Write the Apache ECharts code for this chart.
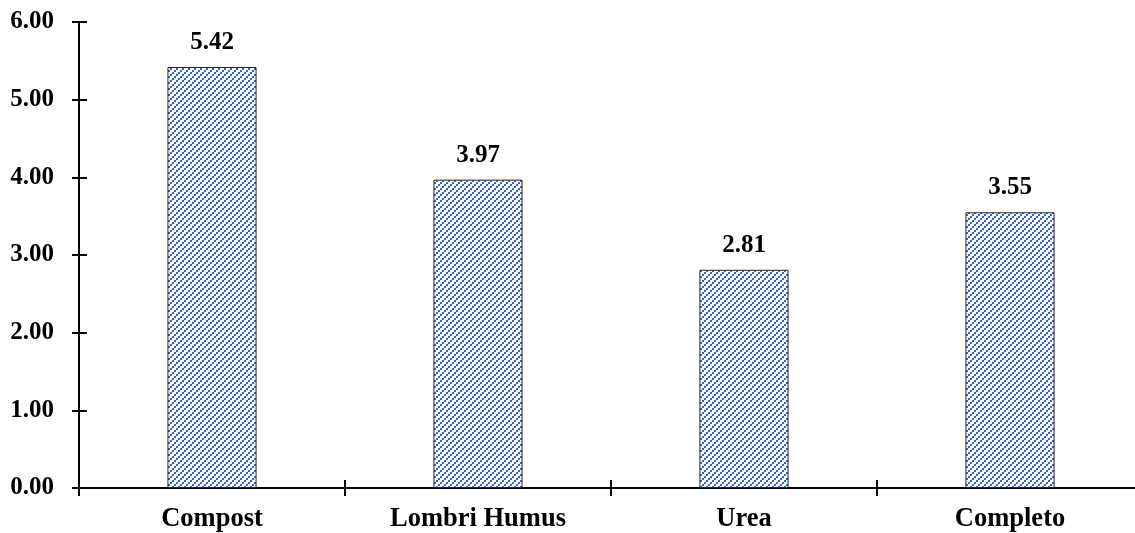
<!DOCTYPE html>
<html>
<head>
<meta charset="utf-8">
<script src="https://cdn.jsdelivr.net/npm/echarts@6/dist/echarts.min.js"></script>
<style>
  html, body { margin: 0; padding: 0; background: #ffffff; }
  #chart { width: 1135px; height: 533px; }
</style>
</head>
<body>
<div id="chart"></div>
<script>
// Treatments and their measured values
const categories = ['Compost', 'Lombri Humus', 'Urea', 'Completo'];
const values = [5.42, 3.97, 2.81, 3.55];
const yTicks = { min: 0, max: 6, interval: 1 };

const FONT = 'Liberation Serif, Times New Roman, serif';

// Hatched fill: upward diagonal lines of small blue dots
function hatchPattern() {
  const size = 6;
  const c = document.createElement('canvas');
  c.width = size; c.height = size;
  const ctx = c.getContext('2d');
  ctx.fillStyle = '#ffffff';
  ctx.fillRect(0, 0, size, size);
  ctx.fillStyle = '#3563d3';
  ctx.fillRect(0, 4, 2, 2);
  ctx.fillRect(2, 2, 2, 2);
  ctx.fillRect(4, 0, 2, 2);
  return c;
}

const valueFont = { fontFamily: FONT, fontWeight: 'bold', fontSize: 25, color: '#000' };
const catFont = { fontFamily: FONT, fontWeight: 'bold', fontSize: 26.5, color: '#000' };
const axisLine = { show: true, lineStyle: { color: '#000', width: 2 } };

const chart = echarts.init(document.getElementById('chart'), null, { renderer: 'canvas' });

chart.setOption({
  animation: false,
  backgroundColor: '#ffffff',
  grid: { left: 79, width: 1064, top: 22, bottom: 45, containLabel: false, outerBoundsMode: 'none' },
  xAxis: [
    {
      type: 'category', data: categories, position: 'bottom',
      axisLine: axisLine,
      axisTick: { show: true, inside: false, length: 8, lineStyle: { color: '#000', width: 2 } },
      axisLabel: Object.assign({ margin: 18 }, catFont),
      splitLine: { show: false }
    },
    {
      type: 'category', data: categories, position: 'bottom', offset: 0,
      axisLine: axisLine,
      axisTick: { show: true, inside: true, length: 8, lineStyle: { color: '#000', width: 2 } },
      axisLabel: { show: false },
      splitLine: { show: false }
    }
  ],
  yAxis: [
    {
      type: 'value', min: yTicks.min, max: yTicks.max, interval: yTicks.interval,
      position: 'left',
      axisLine: axisLine,
      axisTick: { show: true, inside: false, length: 7, lineStyle: { color: '#000', width: 2 } },
      axisLabel: Object.assign({ margin: 25, formatter: v => v.toFixed(2) }, valueFont),
      splitLine: { show: false }
    },
    {
      type: 'value', min: yTicks.min, max: yTicks.max, interval: yTicks.interval,
      position: 'left', offset: 0,
      axisLine: axisLine,
      axisTick: { show: true, inside: true, length: 8, lineStyle: { color: '#000', width: 2 } },
      axisLabel: { show: false },
      splitLine: { show: false }
    }
  ],
  series: [{
    type: 'bar',
    xAxisIndex: 0,
    yAxisIndex: 0,
    data: values,
    barWidth: '33.5%',
    itemStyle: {
      color: { image: hatchPattern(), repeat: 'repeat' },
      borderColor: '#222',
      borderWidth: 1
    },
    label: Object.assign({
      show: true, position: 'top', distance: 12,
      formatter: p => p.value.toFixed(2)
    }, valueFont)
  }]
});
</script>
</body>
</html>
